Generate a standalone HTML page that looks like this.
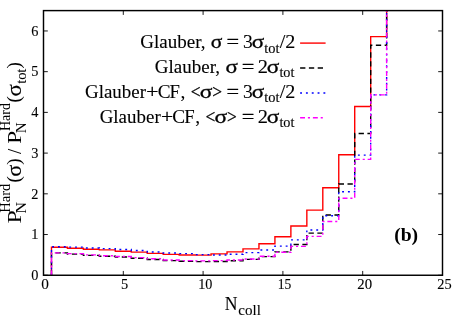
<!DOCTYPE html>
<html><head><meta charset="utf-8"><title>chart</title>
<style>html,body{margin:0;padding:0;background:#fff;overflow:hidden;}svg{display:block;will-change:transform;}text{font-family:"Liberation Serif",serif;fill:#000;stroke:#000;}</style></head><body>
<svg width="463" height="320" viewBox="0 0 463 320">
<rect width="463" height="320" fill="#fff"/>
<defs><clipPath id="c"><rect x="43.50" y="10.60" width="399.00" height="264.65"/></clipPath></defs>
<g clip-path="url(#c)" fill="none" stroke-width="1.40" stroke-linejoin="miter">
<path d="M51.48,275.25 L51.48,247.24 L67.44,247.24 L67.44,248.30 L83.40,248.30 L83.40,249.19 L99.36,249.19 L99.36,249.84 L115.32,249.84 L115.32,251.23 L131.28,251.23 L131.28,252.16 L147.24,252.16 L147.24,253.35 L163.20,253.35 L163.20,254.36 L179.16,254.36 L179.16,255.01 L195.12,255.01 L195.12,255.10 L211.08,255.10 L211.08,253.87 L227.04,253.87 L227.04,251.84 L243.00,251.84 L243.00,248.91 L258.96,248.91 L258.96,243.74 L274.92,243.74 L274.92,236.77 L290.88,236.77 L290.88,225.98 L306.84,225.98 L306.84,210.11 L322.80,210.11 L322.80,187.71 L338.76,187.71 L338.76,154.73 L354.72,154.73 L354.72,106.48 L370.68,106.48 L370.68,36.66 L386.64,36.66 L386.64,-9.76" stroke="#ff0000"/>
<path d="M51.48,275.25 L51.48,252.86 L67.44,252.86 L67.44,254.08 L83.40,254.08 L83.40,255.42 L99.36,255.42 L99.36,256.20 L115.32,256.20 L115.32,256.97 L131.28,256.97 L131.28,258.27 L147.24,258.27 L147.24,259.57 L163.20,259.57 L163.20,260.59 L179.16,260.59 L179.16,261.24 L195.12,261.24 L195.12,261.65 L211.08,261.65 L211.08,261.49 L227.04,261.49 L227.04,260.80 L243.00,260.80 L243.00,259.37 L258.96,259.37 L258.96,256.60 L274.92,256.60 L274.92,251.84 L290.88,251.84 L290.88,244.51 L306.84,244.51 L306.84,233.11 L322.80,233.11 L322.80,214.99 L338.76,214.99 L338.76,184.05 L354.72,184.05 L354.72,133.56 L370.68,133.56 L370.68,45.21 L386.64,45.21 L386.64,-9.76" stroke="#000000" stroke-dasharray="5.3,3.5"/>
<path d="M51.48,275.25 L51.48,246.75 L67.44,246.75 L67.44,247.16 L83.40,247.16 L83.40,247.97 L99.36,247.97 L99.36,248.58 L115.32,248.58 L115.32,249.44 L131.28,249.44 L131.28,250.50 L147.24,250.50 L147.24,252.04 L163.20,252.04 L163.20,253.06 L179.16,253.06 L179.16,253.67 L195.12,253.67 L195.12,254.65 L211.08,254.65 L211.08,255.01 L227.04,255.01 L227.04,254.28 L243.00,254.28 L243.00,252.65 L258.96,252.65 L258.96,250.01 L274.92,250.01 L274.92,246.14 L290.88,246.14 L290.88,239.83 L306.84,239.83 L306.84,230.06 L322.80,230.06 L322.80,215.81 L338.76,215.81 L338.76,191.78 L354.72,191.78 L354.72,155.14 L370.68,155.14 L370.68,94.88 L386.64,94.88 L386.64,-9.76" stroke="#0000ff" stroke-dasharray="1.9,3.93"/>
<path d="M51.48,275.25 L51.48,252.86 L67.44,252.86 L67.44,253.67 L83.40,253.67 L83.40,254.89 L99.36,254.89 L99.36,255.71 L115.32,255.71 L115.32,256.56 L131.28,256.56 L131.28,257.62 L147.24,257.62 L147.24,258.76 L163.20,258.76 L163.20,259.94 L179.16,259.94 L179.16,260.59 L195.12,260.59 L195.12,260.84 L211.08,260.84 L211.08,260.59 L227.04,260.59 L227.04,259.98 L243.00,259.98 L243.00,258.96 L258.96,258.96 L258.96,256.20 L274.92,256.20 L274.92,252.21 L290.88,252.21 L290.88,246.34 L306.84,246.34 L306.84,236.37 L322.80,236.37 L322.80,221.51 L338.76,221.51 L338.76,198.30 L354.72,198.30 L354.72,159.41 L370.68,159.41 L370.68,94.88 L386.64,94.88 L386.64,-9.76" stroke="#ff00ff" stroke-dasharray="4.9,2.9,2.1,2.9"/>
</g>
<rect x="43.50" y="10.60" width="399.00" height="264.65" fill="none" stroke="#000" stroke-width="1.45"/>
<path d="M43.50,275.25 v-4.30 M43.50,10.60 v4.30 M123.30,275.25 v-4.30 M123.30,10.60 v4.30 M203.10,275.25 v-4.30 M203.10,10.60 v4.30 M282.90,275.25 v-4.30 M282.90,10.60 v4.30 M362.70,275.25 v-4.30 M362.70,10.60 v4.30 M442.50,275.25 v-4.30 M442.50,10.60 v4.30 M43.50,275.25 h4.30 M442.50,275.25 h-4.30 M43.50,234.53 h4.30 M442.50,234.53 h-4.30 M43.50,193.82 h4.30 M442.50,193.82 h-4.30 M43.50,153.10 h4.30 M442.50,153.10 h-4.30 M43.50,112.39 h4.30 M442.50,112.39 h-4.30 M43.50,71.67 h4.30 M442.50,71.67 h-4.30 M43.50,30.96 h4.30 M442.50,30.96 h-4.30" stroke="#000" stroke-width="0.9" fill="none"/>
<text transform="translate(41.17,288.75) scale(1.0939,1.0000)" font-size="14.00" stroke-width="0.10">0</text>
<text transform="translate(121.12,288.75) scale(1.0279,1.0000)" font-size="14.00" stroke-width="0.10">5</text>
<text transform="translate(198.20,288.75) scale(1.0133,1.0000)" font-size="14.00" stroke-width="0.10">10</text>
<text transform="translate(277.86,288.75) scale(0.9657,1.0000)" font-size="14.00" stroke-width="0.10">15</text>
<text transform="translate(357.30,288.75) scale(1.0578,1.0000)" font-size="14.00" stroke-width="0.10">20</text>
<text transform="translate(437.22,288.75) scale(1.0280,1.0000)" font-size="14.00" stroke-width="0.10">25</text>
<text x="38.40" y="280.00" font-size="14.3" text-anchor="end" stroke-width="0.1">0</text>
<text x="38.40" y="239.28" font-size="14.3" text-anchor="end" stroke-width="0.1">1</text>
<text x="38.40" y="198.57" font-size="14.3" text-anchor="end" stroke-width="0.1">2</text>
<text x="38.40" y="157.85" font-size="14.3" text-anchor="end" stroke-width="0.1">3</text>
<text x="38.40" y="117.14" font-size="14.3" text-anchor="end" stroke-width="0.1">4</text>
<text x="38.40" y="76.42" font-size="14.3" text-anchor="end" stroke-width="0.1">5</text>
<text x="38.40" y="35.71" font-size="14.3" text-anchor="end" stroke-width="0.1">6</text>
<text transform="translate(140.37,47.90) scale(1.0005,1.0000)" font-size="19.00" stroke-width="0.10">Glauber,</text>
<text transform="translate(210.74,47.90) scale(1.1355,1.0000)" font-size="19.00" stroke-width="0.28">σ</text>
<text transform="translate(226.53,47.90) scale(1.1769,1.0000)" font-size="19.00" stroke-width="0.25">=</text>
<text transform="translate(242.97,47.90) scale(1.0253,1.0000)" font-size="19.00" stroke-width="0.10">3</text>
<text transform="translate(251.69,47.90) scale(1.2196,1.0000)" font-size="19.00" stroke-width="0.28">σ</text>
<text transform="translate(264.21,52.50) scale(0.9492,1.0000)" font-size="15.20" stroke-width="0.10">tot</text>
<text transform="translate(279.65,47.90) scale(1.0629,1.0000)" font-size="19.00" stroke-width="0.10">/2</text>
<text transform="translate(154.77,72.80) scale(1.0021,1.0000)" font-size="19.00" stroke-width="0.10">Glauber,</text>
<text transform="translate(225.49,72.80) scale(1.2091,1.0000)" font-size="19.00" stroke-width="0.28">σ</text>
<text transform="translate(241.63,72.80) scale(1.1769,1.0000)" font-size="19.00" stroke-width="0.25">=</text>
<text transform="translate(257.66,72.80) scale(1.0756,1.0000)" font-size="19.00" stroke-width="0.10">2</text>
<text transform="translate(266.78,72.80) scale(1.2302,1.0000)" font-size="19.00" stroke-width="0.28">σ</text>
<text transform="translate(279.41,77.40) scale(0.9366,1.0000)" font-size="15.20" stroke-width="0.10">tot</text>
<text transform="translate(84.97,97.70) scale(0.9976,1.0000)" font-size="19.00" stroke-width="0.10">Glauber</text>
<text transform="translate(146.27,97.70) scale(1.1330,1.0000)" font-size="19.00" stroke-width="0.25">+</text>
<text transform="translate(157.66,97.70) scale(1.0141,1.0000)" font-size="19.00" stroke-width="0.10">C</text>
<text transform="translate(169.61,97.70) scale(0.9859,1.0000)" font-size="19.00" stroke-width="0.10">F</text>
<text transform="translate(180.61,97.70) scale(1.0240,1.0000)" font-size="19.00" stroke-width="0.10">,</text>
<text transform="translate(190.85,97.70) scale(0.9130,1.0000)" font-size="19.00" stroke-width="0.25">&lt;</text>
<text transform="translate(199.68,97.70) scale(1.2407,1.0000)" font-size="19.00" stroke-width="0.28">σ</text>
<text transform="translate(212.23,97.70) scale(0.9130,1.0000)" font-size="19.00" stroke-width="0.25">&gt;</text>
<text transform="translate(226.53,97.70) scale(1.1769,1.0000)" font-size="19.00" stroke-width="0.25">=</text>
<text transform="translate(242.97,97.70) scale(1.0253,1.0000)" font-size="19.00" stroke-width="0.10">3</text>
<text transform="translate(251.69,97.70) scale(1.2196,1.0000)" font-size="19.00" stroke-width="0.28">σ</text>
<text transform="translate(264.21,102.30) scale(0.9492,1.0000)" font-size="15.20" stroke-width="0.10">tot</text>
<text transform="translate(279.65,97.70) scale(1.0629,1.0000)" font-size="19.00" stroke-width="0.10">/2</text>
<text transform="translate(99.67,122.70) scale(0.9976,1.0000)" font-size="19.00" stroke-width="0.10">Glauber</text>
<text transform="translate(160.97,122.70) scale(1.1330,1.0000)" font-size="19.00" stroke-width="0.25">+</text>
<text transform="translate(172.36,122.70) scale(1.0141,1.0000)" font-size="19.00" stroke-width="0.10">C</text>
<text transform="translate(184.31,122.70) scale(0.9859,1.0000)" font-size="19.00" stroke-width="0.10">F</text>
<text transform="translate(195.31,122.70) scale(1.0240,1.0000)" font-size="19.00" stroke-width="0.10">,</text>
<text transform="translate(205.55,122.70) scale(0.9130,1.0000)" font-size="19.00" stroke-width="0.25">&lt;</text>
<text transform="translate(214.38,122.70) scale(1.2407,1.0000)" font-size="19.00" stroke-width="0.28">σ</text>
<text transform="translate(226.93,122.70) scale(0.9130,1.0000)" font-size="19.00" stroke-width="0.25">&gt;</text>
<text transform="translate(241.63,122.70) scale(1.1769,1.0000)" font-size="19.00" stroke-width="0.25">=</text>
<text transform="translate(257.66,122.70) scale(1.0756,1.0000)" font-size="19.00" stroke-width="0.10">2</text>
<text transform="translate(266.78,122.70) scale(1.2302,1.0000)" font-size="19.00" stroke-width="0.28">σ</text>
<text transform="translate(279.41,127.30) scale(0.9366,1.0000)" font-size="15.20" stroke-width="0.10">tot</text>
<path d="M300.1,43.10 H325.6" stroke="#ff0000" stroke-width="1.40" fill="none"/>
<path d="M300.1,68.00 H325.6" stroke="#000000" stroke-width="1.40" fill="none" stroke-dasharray="5.3,3.5"/>
<path d="M300.1,92.95 H325.6" stroke="#0000ff" stroke-width="1.40" fill="none" stroke-dasharray="1.9,3.93"/>
<path d="M300.1,117.80 H325.6" stroke="#ff00ff" stroke-width="1.40" fill="none" stroke-dasharray="4.9,2.9,2.1,2.9"/>
<text transform="translate(224.74,310.00) scale(0.9270,1.0000)" font-size="19.00" stroke-width="0.10">N</text>
<text transform="translate(238.28,314.70) scale(0.9905,1.0000)" font-size="15.20" stroke-width="0.10">coll</text>
<text transform="translate(394.14,240.70) scale(1.0187,1.0000)" font-size="19.30" font-weight="bold" stroke-width="0.00">(b)</text>
<g transform="translate(20.70,223.00) rotate(-90)"><text transform="translate(-0.49,0.00) scale(1.2529,1.0000)" font-size="19.00" stroke-width="0.00">P</text><text transform="translate(9.44,5.00) scale(1.0500,1.0000)" font-size="15.20" stroke-width="0.00">N</text><text transform="translate(10.28,-10.40) scale(0.9576,1.0000)" font-size="15.20" stroke-width="0.00">Hard</text><text x="40.63" y="-0.80" font-size="19.00" stroke-width="0.00">(</text><text transform="translate(46.56,0.00) scale(1.1406,1.1000)" font-size="19.00" stroke-width="0.15">σ</text><text x="58.35" y="-0.80" font-size="19.00" stroke-width="0.00">)</text><text x="69.06" y="0.00" font-size="19.00" stroke-width="0.00">/</text><text transform="translate(79.13,0.00) scale(1.2205,1.0000)" font-size="19.00" stroke-width="0.00">P</text><text transform="translate(89.67,5.00) scale(0.9813,1.0000)" font-size="15.20" stroke-width="0.00">N</text><text transform="translate(92.00,-10.40) scale(0.9173,1.0000)" font-size="15.20" stroke-width="0.00">Hard</text><text x="120.53" y="-0.80" font-size="19.00" stroke-width="0.00">(</text><text transform="translate(126.62,0.00) scale(1.2046,1.1000)" font-size="19.00" stroke-width="0.15">σ</text><text transform="translate(139.16,5.60) scale(0.9489,1.0000)" font-size="15.20" stroke-width="0.00">tot</text><text x="154.40" y="-0.80" font-size="19.00" stroke-width="0.00">)</text></g>
</svg></body></html>
